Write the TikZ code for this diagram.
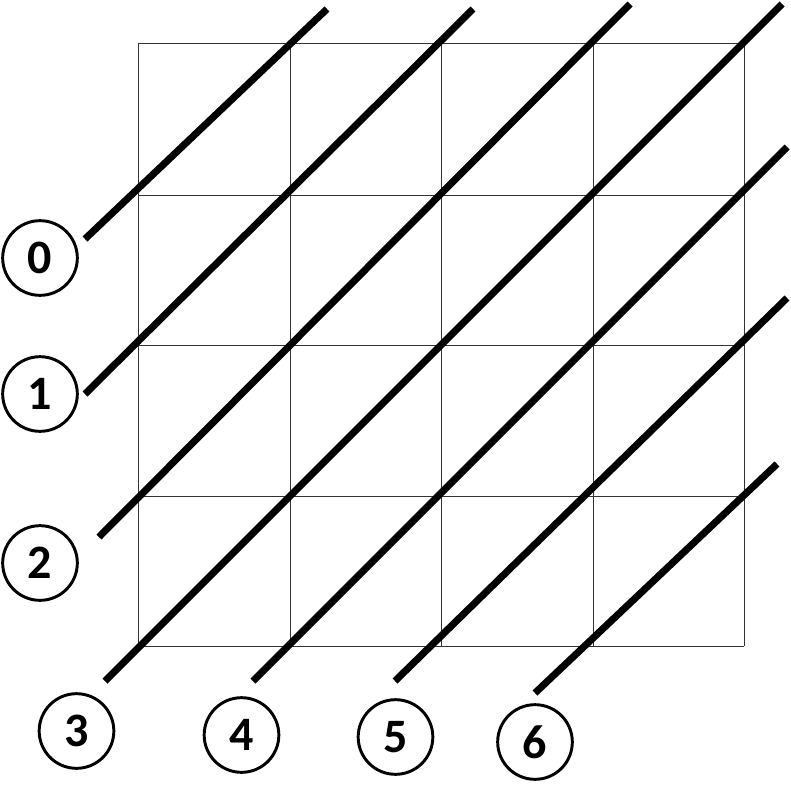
\documentclass[tikz,border=0pt]{standalone}
\usepackage{fontspec}
\setmainfont{Carlito}
\begin{document}
\begin{tikzpicture}[x=0.75pt,y=-0.75pt,
  gridline/.style={draw=black!80,line width=0.7pt},
  diag/.style={draw=black,line width=5.3pt,line cap=butt},
  num/.style={circle,draw=black,line width=2.2pt,minimum size=56pt,inner sep=0pt,font=\fontsize{36}{36}\selectfont\bfseries}]
\useasboundingbox (0,0) rectangle (791,795);
% grid
\foreach \x in {138,290,441,593,744} \draw[gridline] (\x,43) -- (\x,646);
\foreach \y in {43,195,345,496,646} \draw[gridline] (138,\y) -- (744,\y);
% numbered circles
\node[num] (c0) at (40,258) {0};
\node[num] (c1) at (40,394) {1};
\node[num] (c2) at (40,563) {2};
\node[num] (c3) at (76.5,731) {3};
\node[num] (c4) at (241.5,735) {4};
\node[num] (c5) at (395.5,737) {5};
\node[num] (c6) at (535,742) {6};
% diagonal end points
\coordinate (a0) at (85,239);  \coordinate (b0) at (327,9);
\coordinate (a1) at (85,394);  \coordinate (b1) at (473,9);
\coordinate (a2) at (99,537);  \coordinate (b2) at (630,4);
\coordinate (a3) at (105,681); \coordinate (b3) at (782,4);
\coordinate (a4) at (253,681); \coordinate (b4) at (787,147);
\coordinate (a5) at (395,681); \coordinate (b5) at (787,298);
\coordinate (a6) at (535,693); \coordinate (b6) at (777,464);
\foreach \i in {0,...,6} \draw[diag] (a\i) -- (b\i);
\end{tikzpicture}
\end{document}
